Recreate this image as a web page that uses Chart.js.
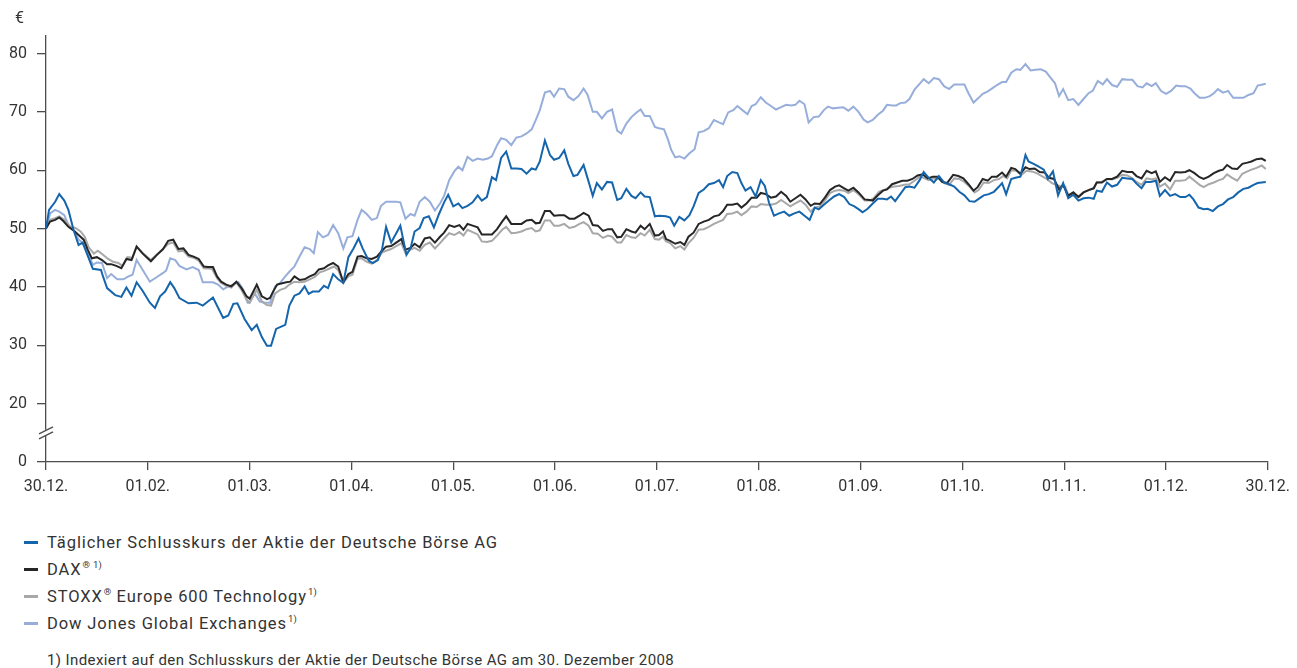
<!DOCTYPE html>
<html>
<head>
<meta charset="utf-8">
<script src="https://cdn.jsdelivr.net/npm/chart.js@4.4.1/dist/chart.umd.min.js"></script>
<style>
  html, body { margin: 0; padding: 0; background: #fff; }
  body { width: 1297px; height: 668px; position: relative; overflow: hidden;
         font-family: Roboto, "Noto Sans", sans-serif; color: #333; }
  #wrap { position: absolute; left: 0; top: 0; width: 1297px; height: 510px; }
  #legend { position: absolute; left: 24px; top: 529px; font-size: 16.5px; letter-spacing: 0.9px; }
  .row { height: 27px; line-height: 27px; display: flex; align-items: center; white-space: nowrap; }
  .key { display: inline-block; width: 14px; height: 3px; margin-right: 9px; }
  sup { font-size: 9.5px; vertical-align: 7px; line-height: 0; margin-left: 1px; letter-spacing: 0.3px; }
  #note { position: absolute; left: 47px; top: 651px; font-size: 15px; line-height: 18px; letter-spacing: 0.4px; white-space: nowrap; }
</style>
</head>
<body>
<div id="wrap"><canvas id="chart" width="1297" height="510"></canvas></div>
<div id="legend"></div>
<div id="note">1) Indexiert auf den Schlusskurs der Aktie der Deutsche Börse AG am 30. Dezember 2008</div>
<script>
// x axis: months, equally spaced (0 = 30.12., 12 = 30.12.)
const monthLabels = ['30.12.', '01.02.', '01.03.', '01.04.', '01.05.', '01.06.', '01.07.',
                     '01.08.', '01.09.', '01.10.', '01.11.', '01.12.', '30.12.'];
// y axis ticks in €, 0 sits below an axis break
const yTickValues = [0, 20, 30, 40, 50, 60, 70, 80];
const BREAK_BASE = 10; // value position where the "0" label is drawn

const seriesLabels = [
  'Täglicher Schlusskurs der Aktie der Deutsche Börse AG',
  'DAX® 1)',
  'STOXX® Europe 600 Technology 1)',
  'Dow Jones Global Exchanges 1)'
];
const legendHtml = [
  'Täglicher Schlusskurs der Aktie der Deutsche Börse AG',
  'DAX<sup>® 1)</sup>',
  'STOXX<sup>®</sup> Europe 600 Technology<sup>1)</sup>',
  'Dow Jones Global Exchanges<sup>1)</sup>'
];
const seriesColors = ['#1565ad', '#262626', '#a8a8a8', '#97aedb'];

// [month position, value in €]
const boerse = [[0.00,50.0],[0.03,53.2],[0.09,54.6],[0.13,55.9],[0.18,54.8],[0.22,53.2],[0.27,49.8],[0.32,47.2],[0.36,47.6],[0.40,45.8],[0.46,43.1],[0.54,42.9],[0.56,41.8],[0.60,39.8],[0.68,38.6],[0.74,38.3],[0.79,39.9],[0.84,38.5],[0.89,40.8],[0.95,39.3],[1.02,37.3],[1.07,36.4],[1.12,38.4],[1.17,39.2],[1.22,40.8],[1.26,39.8],[1.31,38.1],[1.40,37.2],[1.48,37.3],[1.54,36.8],[1.59,37.5],[1.64,38.2],[1.74,34.7],[1.79,35.1],[1.84,37.1],[1.88,37.2],[1.95,34.5],[2.02,32.6],[2.07,33.5],[2.12,31.4],[2.17,29.9],[2.21,29.9],[2.26,32.8],[2.31,33.2],[2.35,33.5],[2.39,36.8],[2.44,38.5],[2.49,38.9],[2.54,40.1],[2.58,38.8],[2.62,39.2],[2.68,39.2],[2.73,40.2],[2.77,39.8],[2.82,42.2],[2.87,41.3],[2.92,40.7],[2.97,45.1],[3.02,46.6],[3.07,48.3],[3.11,46.6],[3.17,44.5],[3.21,44.1],[3.26,44.6],[3.30,46.4],[3.34,50.3],[3.39,47.6],[3.44,49.2],[3.48,50.5],[3.54,45.5],[3.58,46.6],[3.62,49.5],[3.67,50.1],[3.71,51.8],[3.76,52.1],[3.81,50.2],[3.86,52.5],[3.91,54.5],[3.95,55.8],[4.00,53.8],[4.05,54.3],[4.09,53.5],[4.14,53.9],[4.19,54.5],[4.24,55.7],[4.28,54.8],[4.33,55.4],[4.38,58.8],[4.42,58.3],[4.47,62.1],[4.52,63.2],[4.57,60.3],[4.62,60.3],[4.67,60.2],[4.72,59.4],[4.77,60.3],[4.81,60.1],[4.85,61.5],[4.90,65.1],[4.95,62.6],[4.99,61.8],[5.04,62.1],[5.09,63.4],[5.13,61.1],[5.18,59.0],[5.22,59.2],[5.28,60.9],[5.33,58.0],[5.37,55.6],[5.41,57.8],[5.46,56.7],[5.51,58.0],[5.56,57.9],[5.61,54.9],[5.65,55.2],[5.70,56.8],[5.75,55.6],[5.79,55.2],[5.84,56.2],[5.88,55.5],[5.93,55.4],[5.98,52.1],[6.02,52.2],[6.09,52.1],[6.13,51.9],[6.17,50.5],[6.22,52.0],[6.27,51.4],[6.32,52.3],[6.36,53.8],[6.41,56.1],[6.46,56.7],[6.51,57.6],[6.56,57.8],[6.61,58.3],[6.65,57.1],[6.69,59.0],[6.74,59.7],[6.79,59.5],[6.83,57.8],[6.87,56.5],[6.92,57.1],[6.97,55.5],[7.02,58.3],[7.06,57.3],[7.10,54.5],[7.15,52.2],[7.20,52.6],[7.25,52.9],[7.30,52.2],[7.35,52.6],[7.40,52.9],[7.45,52.2],[7.50,51.5],[7.55,53.6],[7.59,53.3],[7.64,54.1],[7.69,54.8],[7.74,55.5],[7.79,55.9],[7.84,55.4],[7.89,54.2],[7.94,53.8],[7.99,53.2],[8.02,52.8],[8.07,53.4],[8.12,54.3],[8.17,55.1],[8.22,55.1],[8.26,55.0],[8.30,55.5],[8.34,54.7],[8.39,55.9],[8.44,57.1],[8.48,57.2],[8.53,57.0],[8.58,58.3],[8.62,59.7],[8.67,58.7],[8.72,57.9],[8.77,59.0],[8.82,57.9],[8.87,57.6],[8.92,57.2],[8.97,56.3],[9.02,55.7],[9.07,54.7],[9.12,54.6],[9.16,55.1],[9.21,55.7],[9.26,55.9],[9.31,56.3],[9.36,57.2],[9.39,57.8],[9.43,55.9],[9.48,58.5],[9.52,58.7],[9.57,58.9],[9.62,62.6],[9.65,61.5],[9.70,61.1],[9.75,60.6],[9.80,60.1],[9.84,58.5],[9.89,59.8],[9.94,55.7],[9.99,57.8],[10.04,55.2],[10.09,55.8],[10.14,54.8],[10.19,55.2],[10.24,55.3],[10.29,55.1],[10.32,56.5],[10.37,56.3],[10.42,57.9],[10.47,57.2],[10.52,57.5],[10.57,58.7],[10.62,58.6],[10.67,58.5],[10.71,57.7],[10.76,56.9],[10.80,58.0],[10.85,58.0],[10.90,58.2],[10.94,55.6],[10.99,56.6],[11.04,55.6],[11.09,55.9],[11.14,55.4],[11.19,55.4],[11.23,55.8],[11.27,55.0],[11.32,53.6],[11.37,53.3],[11.41,53.4],[11.46,53.0],[11.51,53.8],[11.56,54.2],[11.61,55.0],[11.66,55.4],[11.71,56.2],[11.76,56.8],[11.81,57.0],[11.86,57.5],[11.90,57.8],[11.98,58.0]];

const dax = [[0.00,50.0],[0.04,51.2],[0.09,51.5],[0.13,51.9],[0.17,51.3],[0.22,50.3],[0.27,49.7],[0.32,48.9],[0.37,48.1],[0.41,46.4],[0.45,44.9],[0.50,45.1],[0.55,44.6],[0.60,43.9],[0.64,43.9],[0.69,43.6],[0.74,43.2],[0.79,44.8],[0.84,44.6],[0.89,46.9],[0.95,45.7],[1.03,44.4],[1.09,45.5],[1.15,46.5],[1.20,47.9],[1.25,48.1],[1.30,46.5],[1.35,46.6],[1.40,45.5],[1.45,45.2],[1.50,44.8],[1.55,43.5],[1.59,43.4],[1.64,43.4],[1.68,41.8],[1.72,40.9],[1.77,40.4],[1.82,40.1],[1.87,40.9],[1.92,39.8],[1.97,38.4],[2.00,38.0],[2.07,40.4],[2.12,38.4],[2.17,37.9],[2.20,38.1],[2.23,39.2],[2.27,40.4],[2.31,40.6],[2.36,40.8],[2.40,40.9],[2.44,41.8],[2.49,41.2],[2.54,41.3],[2.59,41.8],[2.64,42.2],[2.68,43.0],[2.73,43.2],[2.77,43.7],[2.82,44.1],[2.87,43.5],[2.92,40.8],[2.97,42.2],[3.01,42.6],[3.06,45.2],[3.10,45.3],[3.15,44.9],[3.20,44.8],[3.25,45.2],[3.30,46.2],[3.34,46.9],[3.39,47.0],[3.44,47.6],[3.49,48.2],[3.53,46.4],[3.58,46.7],[3.62,47.4],[3.67,46.8],[3.72,48.3],[3.77,48.5],[3.82,47.6],[3.87,48.6],[3.91,49.3],[3.96,50.6],[4.01,50.3],[4.06,50.6],[4.10,49.8],[4.14,50.8],[4.19,50.5],[4.24,50.2],[4.28,49.0],[4.33,49.0],[4.38,49.0],[4.43,49.9],[4.48,51.2],[4.52,52.1],[4.57,50.8],[4.62,50.8],[4.67,50.8],[4.72,51.4],[4.77,51.5],[4.81,50.9],[4.85,51.0],[4.90,53.0],[4.95,53.0],[4.99,52.2],[5.04,52.3],[5.09,52.3],[5.14,51.7],[5.19,51.7],[5.24,52.2],[5.28,52.7],[5.33,52.2],[5.37,50.6],[5.42,50.5],[5.47,49.6],[5.52,49.9],[5.56,49.9],[5.61,48.5],[5.65,48.6],[5.70,49.9],[5.75,49.5],[5.79,49.3],[5.84,50.5],[5.88,49.9],[5.93,50.8],[5.98,48.8],[6.02,48.9],[6.06,49.5],[6.09,48.2],[6.13,47.9],[6.18,47.4],[6.23,47.7],[6.27,47.2],[6.31,48.6],[6.36,49.3],[6.41,50.8],[6.46,51.2],[6.51,51.5],[6.56,52.1],[6.61,52.3],[6.65,53.0],[6.69,54.1],[6.74,54.1],[6.79,54.3],[6.83,53.6],[6.88,54.3],[6.93,55.3],[6.98,55.3],[7.02,56.1],[7.07,55.9],[7.12,55.3],[7.17,55.5],[7.22,56.3],[7.27,55.6],[7.31,54.6],[7.36,55.2],[7.41,55.8],[7.46,55.0],[7.51,53.9],[7.55,54.3],[7.60,54.2],[7.65,55.3],[7.70,56.6],[7.75,57.2],[7.79,57.4],[7.84,56.9],[7.88,56.5],[7.93,57.0],[7.98,56.2],[8.04,55.0],[8.09,54.9],[8.12,54.8],[8.17,55.7],[8.22,56.5],[8.26,56.7],[8.31,57.6],[8.36,57.9],[8.41,58.2],[8.46,58.2],[8.51,58.5],[8.56,59.1],[8.61,59.3],[8.66,58.6],[8.71,58.9],[8.76,58.9],[8.80,58.0],[8.85,57.8],[8.91,59.2],[8.96,59.0],[9.01,58.6],[9.06,57.6],[9.11,56.5],[9.15,57.1],[9.20,58.5],[9.25,58.2],[9.29,58.9],[9.34,58.9],[9.39,59.6],[9.43,58.9],[9.48,60.4],[9.52,60.2],[9.57,59.4],[9.62,60.5],[9.66,60.2],[9.71,60.3],[9.76,59.7],[9.81,59.6],[9.85,58.7],[9.90,58.5],[9.95,56.7],[9.99,57.5],[10.04,55.6],[10.09,56.2],[10.14,55.4],[10.19,56.2],[10.24,56.6],[10.29,56.9],[10.32,57.9],[10.37,57.9],[10.42,58.5],[10.47,58.5],[10.52,58.9],[10.57,59.9],[10.62,59.7],[10.67,59.7],[10.71,59.0],[10.76,58.6],[10.81,59.9],[10.86,59.5],[10.90,59.8],[10.94,58.0],[10.99,58.8],[11.04,58.2],[11.09,59.7],[11.14,59.6],[11.19,59.7],[11.23,60.0],[11.28,59.5],[11.33,58.8],[11.37,58.5],[11.42,58.9],[11.47,59.5],[11.52,59.9],[11.56,60.1],[11.60,60.9],[11.65,60.3],[11.70,60.2],[11.75,61.1],[11.80,61.3],[11.84,61.5],[11.89,61.9],[11.94,62.0],[11.98,61.6]];

const stoxxTech = [[0.00,50.0],[0.04,51.5],[0.09,51.8],[0.13,52.1],[0.18,51.5],[0.24,50.3],[0.29,50.1],[0.34,49.5],[0.38,48.6],[0.42,46.8],[0.47,45.7],[0.51,46.2],[0.56,45.5],[0.61,44.8],[0.66,44.3],[0.71,44.1],[0.75,43.6],[0.80,45.1],[0.85,45.0],[0.89,47.0],[0.95,45.8],[1.03,44.6],[1.09,45.6],[1.15,46.5],[1.20,47.4],[1.25,47.6],[1.30,46.1],[1.35,46.2],[1.40,45.2],[1.45,45.0],[1.50,44.5],[1.55,43.2],[1.63,43.1],[1.68,41.5],[1.72,40.7],[1.77,40.2],[1.82,39.9],[1.87,40.8],[1.92,39.5],[1.97,37.8],[2.00,37.3],[2.07,39.5],[2.12,37.5],[2.17,36.9],[2.21,36.8],[2.25,38.9],[2.30,39.5],[2.35,39.8],[2.39,40.4],[2.44,40.9],[2.49,40.8],[2.54,40.9],[2.59,41.3],[2.64,41.7],[2.69,42.5],[2.74,42.8],[2.79,43.2],[2.83,43.5],[2.87,42.9],[2.92,40.7],[2.97,41.8],[3.01,42.1],[3.06,44.8],[3.10,44.9],[3.15,44.3],[3.20,44.0],[3.25,44.6],[3.30,45.9],[3.34,46.2],[3.39,46.5],[3.44,47.0],[3.49,47.5],[3.53,45.8],[3.58,46.4],[3.62,46.7],[3.67,46.2],[3.72,47.2],[3.77,47.6],[3.82,46.6],[3.87,47.5],[3.91,48.3],[3.96,49.2],[4.01,48.9],[4.06,49.4],[4.10,48.8],[4.14,49.8],[4.19,49.4],[4.24,49.0],[4.28,47.8],[4.33,47.7],[4.38,47.9],[4.43,48.8],[4.48,49.8],[4.52,50.3],[4.57,49.2],[4.62,49.3],[4.67,49.5],[4.72,49.9],[4.77,50.1],[4.81,49.5],[4.85,49.7],[4.90,51.4],[4.95,51.4],[4.99,50.5],[5.04,50.5],[5.09,50.8],[5.14,50.1],[5.19,50.3],[5.24,50.8],[5.28,51.1],[5.33,50.5],[5.37,49.2],[5.42,49.1],[5.47,48.4],[5.52,48.8],[5.56,48.6],[5.61,47.6],[5.65,47.6],[5.70,48.9],[5.75,48.5],[5.79,48.4],[5.84,49.2],[5.88,48.8],[5.93,49.8],[5.98,48.2],[6.02,48.1],[6.06,48.6],[6.09,47.8],[6.13,47.5],[6.18,46.6],[6.23,47.0],[6.27,46.4],[6.31,47.5],[6.36,48.4],[6.41,49.8],[6.46,49.9],[6.51,50.3],[6.56,50.8],[6.61,51.2],[6.65,51.5],[6.69,52.5],[6.74,52.6],[6.79,52.9],[6.83,52.3],[6.88,52.9],[6.93,53.8],[6.98,53.7],[7.02,54.2],[7.07,54.1],[7.12,54.1],[7.17,54.3],[7.22,54.9],[7.27,54.3],[7.31,53.8],[7.36,54.3],[7.41,54.8],[7.46,54.1],[7.51,52.9],[7.55,53.6],[7.60,53.8],[7.65,54.8],[7.70,56.1],[7.75,56.5],[7.79,56.6],[7.84,56.5],[7.88,56.1],[7.93,56.6],[7.98,55.9],[8.04,54.8],[8.09,54.8],[8.13,55.2],[8.18,56.3],[8.23,56.6],[8.28,57.0],[8.33,57.2],[8.38,57.3],[8.43,57.5],[8.48,57.6],[8.53,58.2],[8.58,58.9],[8.62,58.7],[8.67,58.3],[8.72,58.6],[8.77,58.5],[8.82,57.8],[8.87,57.5],[8.92,58.6],[8.97,58.5],[9.02,58.0],[9.07,57.2],[9.12,56.2],[9.16,56.6],[9.21,57.9],[9.26,57.8],[9.31,58.3],[9.36,58.5],[9.40,59.0],[9.44,58.6],[9.48,60.0],[9.53,59.9],[9.58,59.2],[9.63,59.9],[9.68,59.8],[9.73,59.5],[9.78,59.0],[9.83,58.5],[9.88,57.8],[9.92,57.5],[9.97,57.2],[10.01,57.2],[10.04,55.8],[10.09,56.1],[10.14,55.5],[10.19,56.2],[10.24,56.6],[10.29,56.9],[10.32,57.9],[10.37,58.0],[10.42,58.5],[10.47,58.4],[10.52,58.7],[10.57,59.2],[10.62,59.1],[10.67,58.6],[10.71,58.0],[10.76,57.5],[10.81,58.6],[10.86,58.4],[10.90,58.6],[10.94,57.2],[10.99,57.7],[11.04,56.7],[11.09,58.2],[11.14,58.2],[11.19,58.3],[11.23,58.9],[11.28,58.2],[11.33,57.5],[11.37,57.1],[11.42,57.6],[11.47,57.9],[11.52,58.3],[11.56,58.5],[11.60,59.3],[11.65,58.7],[11.70,58.2],[11.75,59.4],[11.80,59.8],[11.84,60.1],[11.89,60.4],[11.94,60.8],[11.98,60.2]];

const djExchanges = [[0.00,50.0],[0.04,52.6],[0.09,53.2],[0.13,52.9],[0.18,52.3],[0.22,50.6],[0.27,49.7],[0.32,48.1],[0.36,47.6],[0.42,45.5],[0.46,43.8],[0.50,44.2],[0.55,44.1],[0.60,41.5],[0.64,42.2],[0.70,41.3],[0.76,41.3],[0.81,41.8],[0.85,42.1],[0.89,44.6],[0.95,42.9],[1.02,40.9],[1.09,41.7],[1.15,42.4],[1.18,42.8],[1.22,44.9],[1.27,44.6],[1.31,43.6],[1.38,43.0],[1.44,43.4],[1.50,42.9],[1.54,40.8],[1.59,40.8],[1.64,40.8],[1.69,40.4],[1.74,39.6],[1.79,40.1],[1.84,40.4],[1.89,40.8],[1.94,39.5],[1.98,37.3],[2.00,37.3],[2.05,38.9],[2.10,37.5],[2.15,37.3],[2.20,37.3],[2.25,40.1],[2.30,40.7],[2.35,41.8],[2.39,42.6],[2.44,43.5],[2.49,45.2],[2.54,46.8],[2.59,46.5],[2.63,45.8],[2.67,49.4],[2.72,48.5],[2.77,48.9],[2.82,50.6],[2.87,49.2],[2.92,46.6],[2.96,48.5],[3.01,48.7],[3.06,51.5],[3.10,53.2],[3.15,52.5],[3.20,51.5],[3.25,51.8],[3.29,53.9],[3.34,54.6],[3.39,54.6],[3.44,54.6],[3.48,54.5],[3.53,51.7],[3.58,52.5],[3.62,52.2],[3.67,54.6],[3.72,55.4],[3.77,54.6],[3.82,53.1],[3.87,54.3],[3.91,55.6],[3.96,58.3],[4.01,59.8],[4.05,60.6],[4.09,60.0],[4.14,62.3],[4.19,61.6],[4.24,62.0],[4.29,61.8],[4.34,62.0],[4.38,62.4],[4.43,64.3],[4.47,65.5],[4.52,65.2],[4.57,64.3],[4.62,65.6],[4.67,65.8],[4.72,66.3],[4.77,67.0],[4.81,68.6],[4.85,70.3],[4.90,73.3],[4.95,73.6],[4.99,72.6],[5.04,74.0],[5.09,73.9],[5.13,72.6],[5.18,72.0],[5.23,72.7],[5.28,74.0],[5.32,72.9],[5.37,70.0],[5.41,70.0],[5.46,68.9],[5.51,70.0],[5.56,70.4],[5.61,66.8],[5.65,66.3],[5.70,68.0],[5.75,69.1],[5.80,69.9],[5.84,70.4],[5.88,69.3],[5.93,69.3],[5.98,67.4],[6.02,67.2],[6.07,67.0],[6.11,65.2],[6.14,63.5],[6.18,62.2],[6.22,62.4],[6.27,62.0],[6.32,62.9],[6.37,63.6],[6.41,66.5],[6.46,66.7],[6.51,67.2],[6.56,68.6],[6.61,68.2],[6.65,67.9],[6.70,69.9],[6.75,70.3],[6.79,71.0],[6.84,70.3],[6.89,69.6],[6.93,71.0],[6.97,71.3],[7.02,72.5],[7.07,71.6],[7.12,71.0],[7.17,70.4],[7.22,70.8],[7.27,71.2],[7.32,71.1],[7.36,71.2],[7.40,71.9],[7.45,71.3],[7.49,68.2],[7.54,69.1],[7.59,69.2],[7.64,70.3],[7.68,70.9],[7.73,70.6],[7.78,70.7],[7.83,70.8],[7.88,70.2],[7.93,70.9],[7.98,70.0],[8.03,68.7],[8.07,68.2],[8.12,68.6],[8.17,69.5],[8.22,70.2],[8.26,71.2],[8.31,71.1],[8.35,71.1],[8.39,71.5],[8.44,71.6],[8.48,72.2],[8.53,73.8],[8.58,74.8],[8.62,75.6],[8.67,74.9],[8.72,75.8],[8.77,75.6],[8.82,74.4],[8.87,73.9],[8.92,74.7],[8.97,74.7],[9.02,74.7],[9.06,73.2],[9.11,71.6],[9.16,72.4],[9.20,73.1],[9.25,73.5],[9.30,74.1],[9.34,74.6],[9.39,75.1],[9.43,75.1],[9.48,76.7],[9.53,77.3],[9.57,77.2],[9.62,78.2],[9.67,77.1],[9.72,77.2],[9.77,77.3],[9.82,76.9],[9.86,76.0],[9.91,74.9],[9.95,72.7],[9.99,73.9],[10.04,72.0],[10.09,72.2],[10.14,71.2],[10.19,72.2],[10.24,73.2],[10.28,73.6],[10.33,75.3],[10.38,74.7],[10.42,75.6],[10.47,74.6],[10.52,74.3],[10.57,75.6],[10.62,75.5],[10.67,75.5],[10.72,74.4],[10.77,74.2],[10.81,74.9],[10.86,74.4],[10.90,74.9],[10.95,73.6],[11.00,73.1],[11.05,73.6],[11.10,74.5],[11.14,74.4],[11.19,74.4],[11.24,74.0],[11.28,73.2],[11.33,72.4],[11.38,72.4],[11.43,72.7],[11.47,73.2],[11.51,73.9],[11.56,73.3],[11.61,73.6],[11.66,72.4],[11.71,72.4],[11.76,72.4],[11.81,72.9],[11.86,73.2],[11.90,74.5],[11.95,74.7],[11.98,74.8]];

const seriesData = [boerse, dax, stoxxTech, djExchanges];

const axisColor = '#4d4d4d';
const textColor = '#333';
const tickFont = { family: 'Roboto', size: 16 };

// axis break marks on the y axis between 0 and 20, plus the € unit label
const axisBreak = {
  id: 'axisBreak',
  afterDraw(chart) {
    const { ctx, scales: { x, y } } = chart;
    const by = y.getPixelForValue((BREAK_BASE + 20) / 2);
    const ax = x.left;
    ctx.save();
    ctx.fillStyle = '#fff';
    ctx.fillRect(ax - 2, by - 3, 4, 6);
    ctx.strokeStyle = axisColor;
    ctx.lineWidth = 1.3;
    [-2.5, 2.5].forEach(d => {
      ctx.beginPath();
      ctx.moveTo(ax - 7, by + d + 3.5);
      ctx.lineTo(ax + 7, by + d - 3.5);
      ctx.stroke();
    });
    ctx.fillStyle = textColor;
    ctx.font = '16px Roboto';
    ctx.textAlign = 'left';
    ctx.textBaseline = 'middle';
    ctx.fillText('€', 15, y.top - 17);
    ctx.restore();
  }
};

const chart = new Chart(document.getElementById('chart'), {
  type: 'line',
  data: {
    datasets: seriesData.map((s, i) => ({
      label: seriesLabels[i],
      data: s.map(p => ({ x: p[0], y: p[1] })),
      borderColor: seriesColors[i],
      backgroundColor: seriesColors[i],
      borderWidth: 2,
      pointRadius: 0,
      tension: 0,
      fill: false
    }))
  },
  options: {
    responsive: false,
    animation: false,
    layout: { padding: { top: 36, right: 28, left: 0, bottom: 0 } },
    plugins: { legend: { display: false }, tooltip: { enabled: false } },
    scales: {
      x: {
        type: 'linear',
        min: 0,
        max: 12,
        afterBuildTicks: s => { s.ticks = monthLabels.map((_, i) => ({ value: i })); },
        afterFit: s => { s.height = 48; },
        ticks: {
          callback: v => monthLabels[v],
          font: tickFont,
          color: textColor,
          padding: 7,
          maxRotation: 0,
          autoSkip: false
        },
        grid: { drawOnChartArea: false, tickLength: 8, color: axisColor, lineWidth: 1.3 },
        border: { color: axisColor, width: 1.3 }
      },
      y: {
        type: 'linear',
        min: BREAK_BASE,
        max: 83,
        afterBuildTicks: s => { s.ticks = yTickValues.map(v => ({ value: v === 0 ? BREAK_BASE : v })); },
        afterFit: s => { s.width = 46; },
        ticks: {
          callback: v => (v === BREAK_BASE ? '0' : String(v)),
          font: tickFont,
          color: textColor,
          padding: 10
        },
        grid: { drawOnChartArea: false, tickLength: 9, color: axisColor, lineWidth: 1.3 },
        border: { color: axisColor, width: 1.3 }
      }
    }
  },
  plugins: [axisBreak]
});

// HTML legend built from the chart datasets
const legend = document.getElementById('legend');
chart.data.datasets.forEach((ds, i) => {
  const row = document.createElement('div');
  row.className = 'row';
  row.innerHTML = '<span class="key" style="background:' + ds.borderColor + '"></span><span>' + legendHtml[i] + '</span>';
  legend.appendChild(row);
});
</script>
</body>
</html>
